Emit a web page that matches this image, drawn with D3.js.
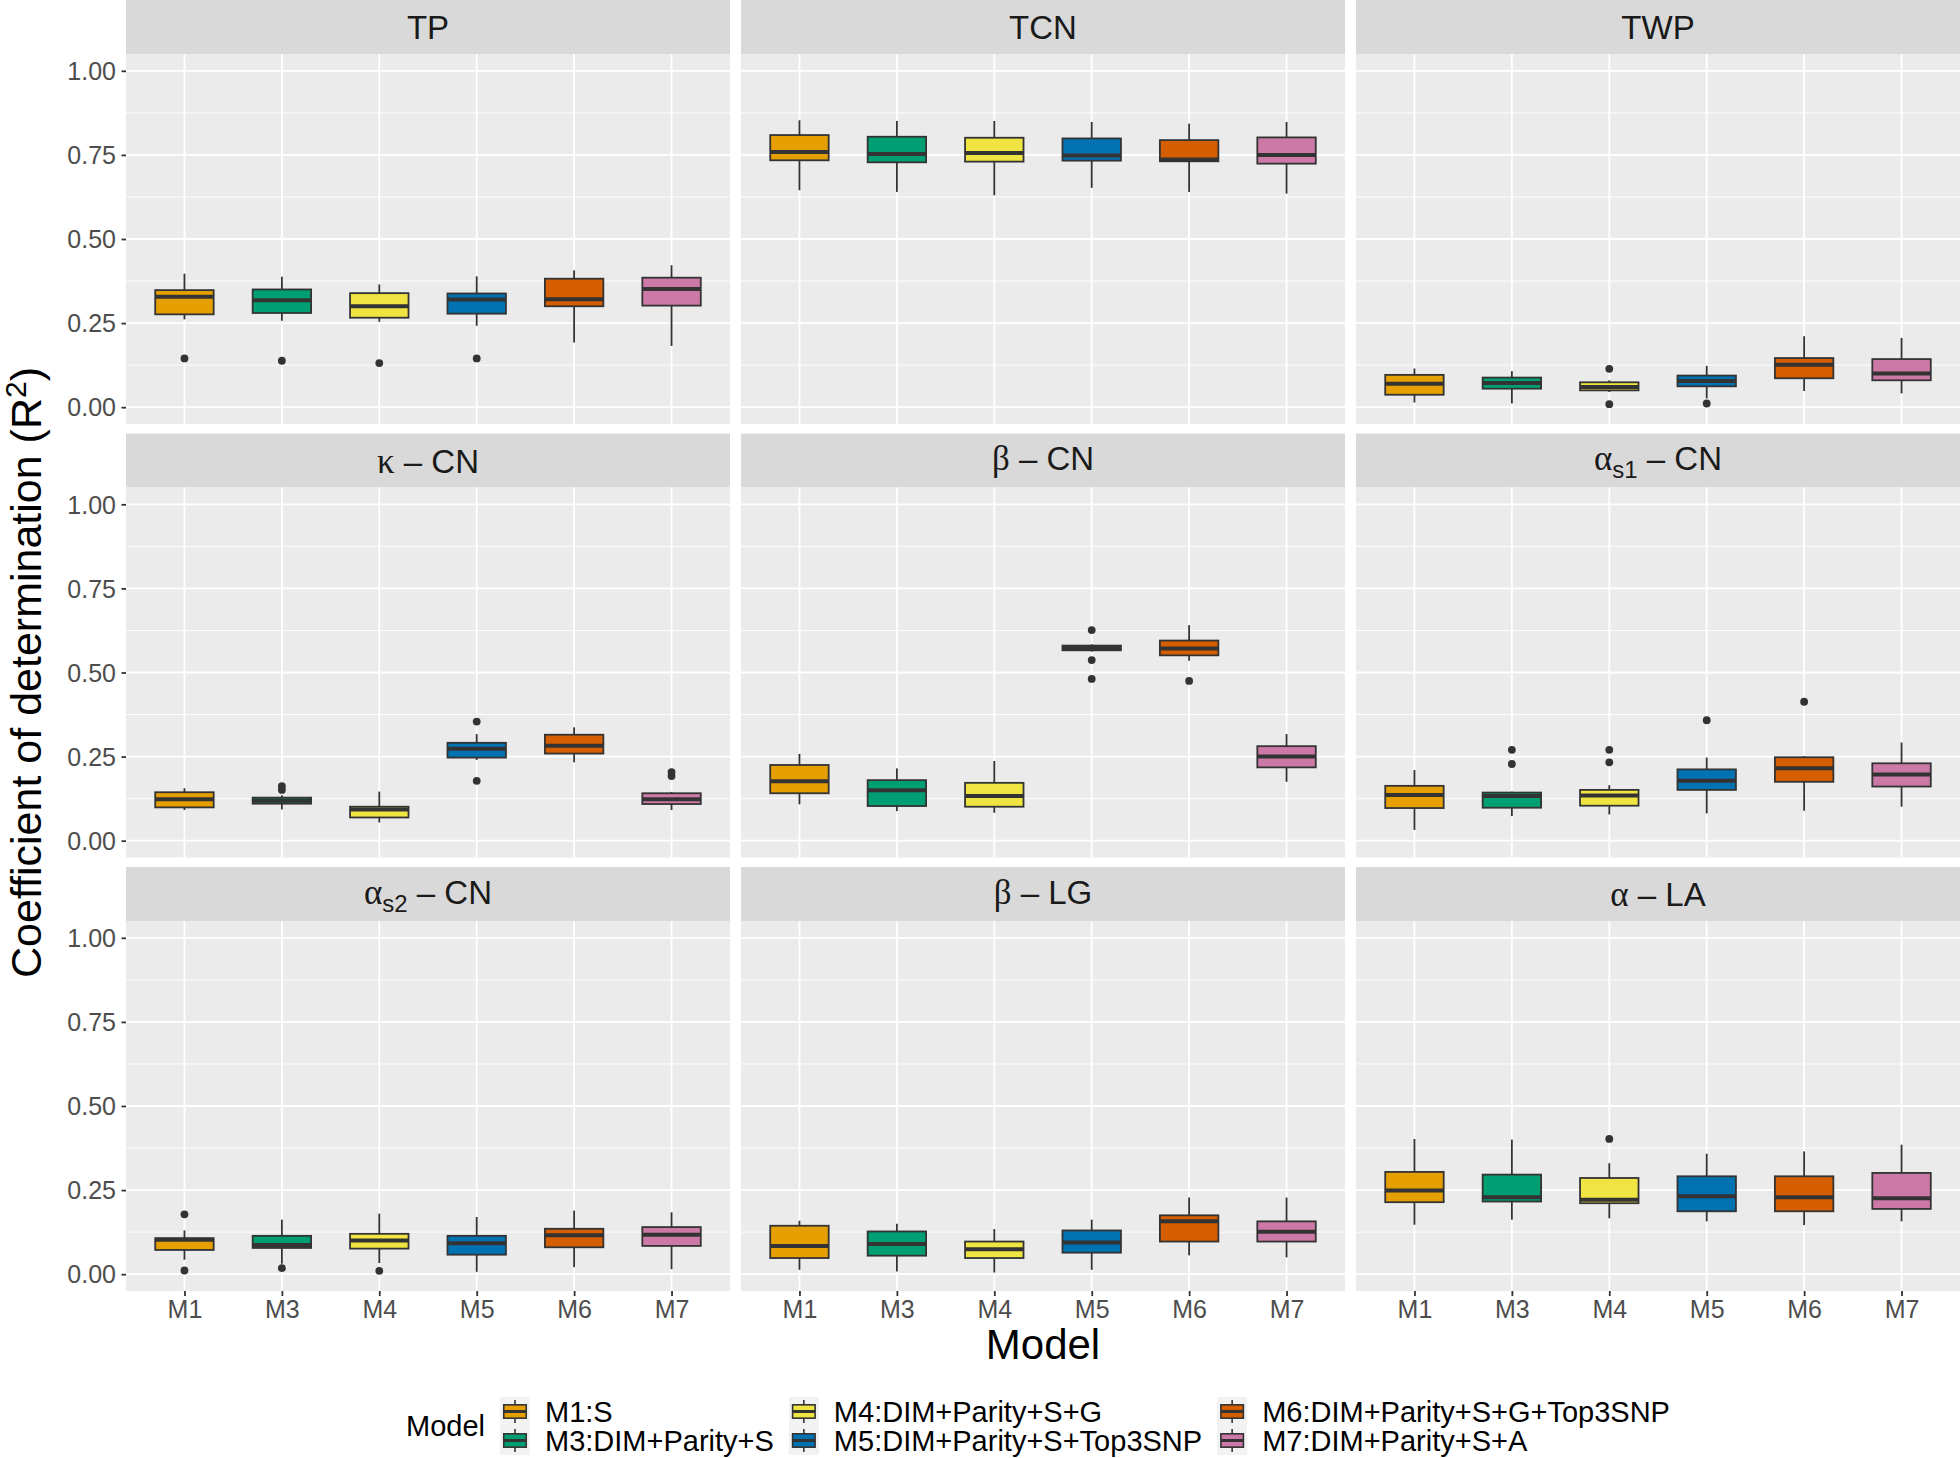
<!DOCTYPE html>
<html>
<head>
<meta charset="utf-8">
<script src="https://cdn.jsdelivr.net/npm/d3@7"></script>
<style>
  body { margin: 0; background: #fff; }
  svg { display: block; }
</style>
</head>
<body>
<svg id="svg-container" width="1960" height="1458"></svg>
<script>
const models = ['M1', 'M3', 'M4', 'M5', 'M6', 'M7'];
const modelLabels = ['M1:S', 'M3:DIM+Parity+S', 'M4:DIM+Parity+S+G', 'M5:DIM+Parity+S+Top3SNP',
  'M6:DIM+Parity+S+G+Top3SNP', 'M7:DIM+Parity+S+A'];
const modelColors = ['#E69F00', '#009E73', '#F0E442', '#0072B2', '#D55E00', '#CC79A7'];

// facet strip labels: greek letter (plotmath), subscript, rest
const facetGreek = [null, null, null, 'κ', 'β', 'α', 'α', 'β', 'α'];
const facetSub = [null, null, null, null, null, 's1', 's2', null, null];
const facetName = ['TP', 'TCN', 'TWP', 'CN', 'CN', 'CN', 'CN', 'LG', 'LA'];

const yTicks = [0, 0.25, 0.5, 0.75, 1];
const yMinor = [0.125, 0.375, 0.625, 0.875];

// box stats per model: [lower whisker, q1, median, q3, upper whisker]
const tpBoxes = [[0.261, 0.276, 0.328, 0.348, 0.397], [0.257, 0.280, 0.318, 0.350, 0.388],
  [0.254, 0.266, 0.300, 0.339, 0.365], [0.242, 0.278, 0.320, 0.338, 0.389],
  [0.192, 0.300, 0.321, 0.382, 0.407], [0.182, 0.302, 0.351, 0.385, 0.422]];
const tcnBoxes = [[0.645, 0.734, 0.759, 0.809, 0.853], [0.640, 0.728, 0.753, 0.804, 0.851],
  [0.630, 0.730, 0.756, 0.801, 0.851], [0.652, 0.733, 0.748, 0.799, 0.848],
  [0.640, 0.731, 0.736, 0.794, 0.843], [0.635, 0.724, 0.750, 0.802, 0.848]];
const twpBoxes = [[0.014, 0.037, 0.070, 0.096, 0.115], [0.011, 0.055, 0.072, 0.088, 0.107],
  [0.045, 0.050, 0.060, 0.074, 0.080], [0.026, 0.062, 0.078, 0.094, 0.123],
  [0.048, 0.086, 0.126, 0.146, 0.211], [0.041, 0.080, 0.100, 0.143, 0.206]];
const kappaCnBoxes = [[0.091, 0.099, 0.123, 0.144, 0.156], [0.093, 0.110, 0.119, 0.128, 0.135],
  [0.054, 0.069, 0.093, 0.101, 0.146], [0.240, 0.247, 0.273, 0.291, 0.317],
  [0.233, 0.259, 0.282, 0.315, 0.337], [0.091, 0.109, 0.123, 0.141, 0.145]];
const betaCnBoxes = [[0.108, 0.141, 0.177, 0.225, 0.258], [0.088, 0.103, 0.150, 0.180, 0.215],
  [0.083, 0.101, 0.133, 0.172, 0.237], [0.562, 0.566, 0.573, 0.580, 0.584],
  [0.535, 0.551, 0.571, 0.595, 0.641], [0.175, 0.218, 0.250, 0.281, 0.317]];
const as1CnBoxes = [[0.032, 0.097, 0.136, 0.163, 0.210], [0.073, 0.098, 0.133, 0.143, 0.146],
  [0.078, 0.104, 0.134, 0.151, 0.165], [0.081, 0.151, 0.178, 0.212, 0.247],
  [0.089, 0.175, 0.215, 0.248, 0.251], [0.101, 0.161, 0.197, 0.230, 0.292]];
const as2CnBoxes = [[0.043, 0.072, 0.102, 0.107, 0.130], [0.031, 0.078, 0.087, 0.114, 0.162],
  [0.033, 0.076, 0.100, 0.120, 0.180], [0.007, 0.058, 0.092, 0.114, 0.170],
  [0.021, 0.080, 0.116, 0.135, 0.189], [0.015, 0.084, 0.117, 0.140, 0.184]];
const betaLgBoxes = [[0.013, 0.048, 0.084, 0.144, 0.159], [0.008, 0.055, 0.090, 0.127, 0.150],
  [0.005, 0.048, 0.074, 0.097, 0.134], [0.013, 0.064, 0.094, 0.130, 0.162],
  [0.056, 0.097, 0.157, 0.175, 0.228], [0.050, 0.097, 0.126, 0.157, 0.228]];
const alphaLaBoxes = [[0.147, 0.214, 0.249, 0.304, 0.402], [0.162, 0.216, 0.229, 0.296, 0.400],
  [0.166, 0.211, 0.221, 0.286, 0.330], [0.157, 0.187, 0.232, 0.291, 0.358],
  [0.146, 0.187, 0.229, 0.291, 0.365], [0.157, 0.194, 0.226, 0.301, 0.385]];

// outliers: [model, value]
const tpOut = [['M1', 0.145], ['M3', 0.138], ['M4', 0.131], ['M5', 0.145]];
const tcnOut = [];
const twpOut = [['M4', 0.114], ['M4', 0.009], ['M5', 0.011]];
const kappaCnOut = [['M3', 0.151], ['M3', 0.162], ['M5', 0.354], ['M5', 0.178], ['M7', 0.192], ['M7', 0.204]];
const betaCnOut = [['M5', 0.626], ['M5', 0.537], ['M5', 0.481], ['M6', 0.475]];
const as1CnOut = [['M3', 0.270], ['M3', 0.228], ['M4', 0.270], ['M4', 0.233], ['M5', 0.358], ['M6', 0.413]];
const as2CnOut = [['M1', 0.178], ['M1', 0.011], ['M3', 0.018], ['M4', 0.010]];
const betaLgOut = [];
const alphaLaOut = [['M4', 0.402]];

const facetBoxes = [tpBoxes, tcnBoxes, twpBoxes, kappaCnBoxes, betaCnBoxes, as1CnBoxes, as2CnBoxes, betaLgBoxes, alphaLaBoxes];
const facetOut = [tpOut, tcnOut, twpOut, kappaCnOut, betaCnOut, as1CnOut, as2CnOut, betaLgOut, alphaLaOut];

// layout
const plotLeft = 126;
const panelW = 604;
const panelGap = 11;
const rowPitch = 433.5;
const stripH = 54;
const panelH = 370;
const font = "'Liberation Sans', Arial, sans-serif";
const ink = '#333333';

const svg = d3.select('#svg-container');
const colorOf = d3.scaleOrdinal().domain(models).range(modelColors);

facetBoxes.forEach((boxes, i) => {
  const col = i % 3;
  const row = Math.floor(i / 3);
  const x0 = plotLeft + col * (panelW + panelGap);
  const stripTop = row * rowPitch;
  const pTop = stripTop + stripH;
  const pBottom = pTop + panelH;

  const x = d3.scalePoint().domain(models).range([x0, x0 + panelW]).padding(0.6);
  const y = d3.scaleLinear().domain([-0.05, 1.05]).range([pBottom, pTop]);
  const bw = x.step() * 0.6;

  const g = svg.append('g');

  // strip
  g.append('rect')
    .attr('x', x0).attr('y', stripTop)
    .attr('width', panelW).attr('height', stripH)
    .attr('fill', '#D9D9D9');

  const hasLow = facetSub[i] || facetGreek[i] === 'β';
  const label = g.append('text')
    .attr('x', x0 + panelW / 2)
    .attr('y', stripTop + stripH / 2 + (hasLow ? 9.5 : 12))
    .attr('text-anchor', 'middle')
    .attr('font-family', font)
    .attr('font-size', 33)
    .attr('fill', '#1A1A1A');
  if (facetGreek[i]) {
    label.append('tspan')
      .attr('font-family', "'Liberation Serif', 'DejaVu Serif', serif")
      .attr('font-size', 35)
      .text(facetGreek[i]);
    let back = 0;
    if (facetSub[i]) {
      label.append('tspan').attr('font-size', 24).attr('dy', 8).text(facetSub[i]);
      back = -8;
    }
    label.append('tspan').attr('dy', back).text(' \u2013 ' + facetName[i]);
  } else {
    label.text(facetName[i]);
  }

  // panel + grid
  g.append('rect')
    .attr('x', x0).attr('y', pTop)
    .attr('width', panelW).attr('height', panelH)
    .attr('fill', '#EBEBEB');

  g.selectAll('.minor').data(yMinor).enter().append('line')
    .attr('x1', x0).attr('x2', x0 + panelW)
    .attr('y1', d => y(d)).attr('y2', d => y(d))
    .attr('stroke', '#fff').attr('stroke-width', 0.9);

  g.selectAll('.major').data(yTicks).enter().append('line')
    .attr('x1', x0).attr('x2', x0 + panelW)
    .attr('y1', d => y(d)).attr('y2', d => y(d))
    .attr('stroke', '#fff').attr('stroke-width', 1.8);

  g.selectAll('.vgrid').data(models).enter().append('line')
    .attr('x1', d => x(d)).attr('x2', d => x(d))
    .attr('y1', pTop).attr('y2', pBottom)
    .attr('stroke', '#fff').attr('stroke-width', 1.8);

  // boxplots
  boxes.forEach((b, j) => {
    const cx = x(models[j]);
    const [lo, q1, med, q3, hi] = b;
    g.append('line')
      .attr('x1', cx).attr('x2', cx).attr('y1', y(hi)).attr('y2', y(q3))
      .attr('stroke', ink).attr('stroke-width', 1.8);
    g.append('line')
      .attr('x1', cx).attr('x2', cx).attr('y1', y(q1)).attr('y2', y(lo))
      .attr('stroke', ink).attr('stroke-width', 1.8);
    g.append('rect')
      .attr('x', cx - bw / 2).attr('y', y(q3))
      .attr('width', bw).attr('height', y(q1) - y(q3))
      .attr('fill', colorOf(models[j]))
      .attr('stroke', ink).attr('stroke-width', 1.8);
    g.append('line')
      .attr('x1', cx - bw / 2).attr('x2', cx + bw / 2)
      .attr('y1', y(med)).attr('y2', y(med))
      .attr('stroke', ink).attr('stroke-width', 4);
  });

  g.selectAll('.outlier').data(facetOut[i]).enter().append('circle')
    .attr('cx', d => x(d[0])).attr('cy', d => y(d[1]))
    .attr('r', 3.9).attr('fill', ink);

  // axes
  if (col === 0) {
    const ax = g.append('g')
      .attr('transform', `translate(${x0},0)`)
      .call(d3.axisLeft(y).tickValues(yTicks).tickFormat(d3.format('.2f')).tickSize(4.5).tickPadding(5.5));
    ax.select('.domain').remove();
    ax.selectAll('line').attr('stroke', ink).attr('stroke-width', 1.8);
    ax.selectAll('text').attr('font-family', font).attr('font-size', 25).attr('fill', '#4D4D4D').attr('dy', '0.35em');
  }
  if (row === 2) {
    const ax = g.append('g')
      .attr('transform', `translate(0,${pBottom})`)
      .call(d3.axisBottom(x).tickSize(5).tickPadding(4));
    ax.select('.domain').remove();
    ax.selectAll('line').attr('stroke', ink).attr('stroke-width', 1.8);
    ax.selectAll('text').attr('font-family', font).attr('font-size', 25).attr('fill', '#4D4D4D');
  }
});

// axis titles
const lastBottom = 2 * rowPitch + stripH + panelH;
svg.append('text')
  .attr('x', plotLeft + (3 * panelW + 2 * panelGap) / 2)
  .attr('y', 1359)
  .attr('text-anchor', 'middle')
  .attr('font-family', font).attr('font-size', 42).attr('fill', '#000')
  .text('Model');

const yTitle = svg.append('text')
  .attr('transform', `translate(41,${(stripH + lastBottom) / 2}) rotate(-90)`)
  .attr('text-anchor', 'middle')
  .attr('font-family', font).attr('font-size', 43).attr('fill', '#000');
yTitle.append('tspan').text('Coefficient of determination (R');
yTitle.append('tspan').attr('font-size', 30).attr('dy', -15).text('2');
yTitle.append('tspan').attr('dy', 15).text(')');

// legend: 3 columns x 2 rows, filled by column
const legendFont = 29;
const keyW = 30, keyH = 29;
const legend = svg.append('g').attr('transform', 'translate(406,1397)');
const legendTitle = legend.append('text')
  .attr('x', 0).attr('y', keyH + legendFont * 0.35)
  .attr('font-family', font).attr('font-size', legendFont).attr('fill', '#000')
  .text('Model');

let cursor = legendTitle.node().getComputedTextLength() + 15;
for (let c = 0; c < 3; c++) {
  let maxW = 0;
  for (let r = 0; r < 2; r++) {
    const k = c * 2 + r;
    const ky = r * keyH;
    const kg = legend.append('g').attr('transform', `translate(${cursor},${ky})`);
    kg.append('rect').attr('width', keyW).attr('height', keyH).attr('fill', '#F2F2F2');
    kg.append('line')
      .attr('x1', keyW / 2).attr('x2', keyW / 2).attr('y1', keyH * 0.1).attr('y2', keyH * 0.9)
      .attr('stroke', ink).attr('stroke-width', 1.6);
    kg.append('rect')
      .attr('x', keyW * 0.125).attr('y', keyH * 0.27)
      .attr('width', keyW * 0.75).attr('height', keyH * 0.46)
      .attr('fill', modelColors[k]).attr('stroke', ink).attr('stroke-width', 1.6);
    kg.append('line')
      .attr('x1', keyW * 0.125).attr('x2', keyW * 0.875).attr('y1', keyH / 2).attr('y2', keyH / 2)
      .attr('stroke', ink).attr('stroke-width', 3);
    const t = legend.append('text')
      .attr('x', cursor + keyW + 15).attr('y', ky + keyH / 2 + legendFont * 0.35)
      .attr('font-family', font).attr('font-size', legendFont).attr('fill', '#000')
      .text(modelLabels[k]);
    maxW = Math.max(maxW, t.node().getComputedTextLength());
  }
  cursor += keyW + 15 + maxW + 15;
}
</script>
</body>
</html>
